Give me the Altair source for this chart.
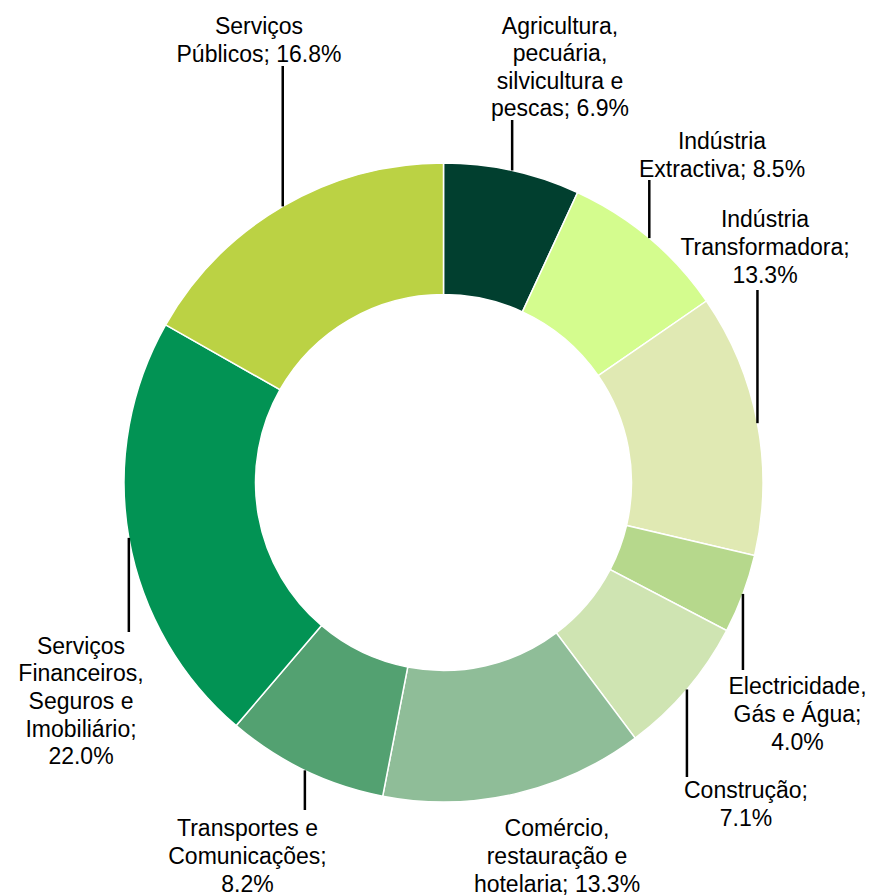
import math
import altair as alt
import pandas as pd

# ---- data ----
sectors = [
    "Agricultura,\npecuária,\nsilvicultura e\npescas; 6.9%",
    "Indústria\nExtractiva; 8.5%",
    "Indústria\nTransformadora;\n13.3%",
    "Electricidade,\nGás e Água;\n4.0%",
    "Construção;\n7.1%",
    "Comércio,\nrestauração e\nhotelaria; 13.3%",
    "Transportes e\nComunicações;\n8.2%",
    "Serviços\nFinanceiros,\nSeguros e\nImobiliário;\n22.0%",
    "Serviços\nPúblicos; 16.8%",
]
values = [6.9, 8.5, 13.3, 4.0, 7.1, 13.3, 8.2, 22.0, 16.8]
colors = ["#013F2F", "#D4FC8E", "#E0E9B3", "#B6D88C", "#CFE4B2",
          "#8FBD98", "#53A171", "#029354", "#BBD244"]

# ---- layout (annotation placement, in chart pixels) ----
CX, CY = 435.5, 474.5          # donut centre
R_OUT, R_IN = 319.5, 188
LINE_H = 27.6
leader_end_y = [112, 172, 282, 662, 769, None, 802, 624, 58]
label_center = [(552, 59), (714, 147), (757, 239), (789.5, 706), (738, 796),
                (549, 848), (239.5, 848), (73, 693), (251, 32)]

total = sum(values)
rows, rules = [], []
cum = 0.0
for i, (s, v) in enumerate(zip(sectors, values)):
    mid = (cum + v / 2) / total * 2 * math.pi
    cum += v
    px = CX + R_OUT * math.sin(mid)
    py = CY - R_OUT * math.cos(mid)
    n_lines = s.count("\n") + 1
    rows.append({"sector": s, "value": v, "idx": i,
                 "lx": label_center[i][0],
                 "ly": label_center[i][1] - (n_lines - 1) * LINE_H / 2 + 1})
    if leader_end_y[i] is not None:
        rules.append({"rx": px, "ry1": py, "ry2": leader_end_y[i]})

df = pd.DataFrame(rows)
rdf = pd.DataFrame(rules)

arc = alt.Chart(df).mark_arc(
    innerRadius=R_IN, outerRadius=R_OUT, stroke="white", strokeWidth=1.5
).encode(
    theta=alt.Theta("value:Q", stack=True),
    color=alt.Color("sector:N", scale=alt.Scale(domain=sectors, range=colors), legend=None),
    order=alt.Order("idx:Q"),
    x=alt.value(CX),
    y=alt.value(CY),
)

leaders = alt.Chart(rdf).mark_rule(color="black", strokeWidth=2.5).encode(
    x=alt.X("rx:Q", scale=None),
    y=alt.Y("ry1:Q", scale=None),
    y2="ry2:Q",
)

labels = alt.Chart(df).mark_text(
    font="Liberation Sans", fontSize=23, lineBreak="\n", lineHeight=LINE_H,
    align="center", baseline="middle", color="black"
).encode(
    x=alt.X("lx:Q", scale=None),
    y=alt.Y("ly:Q", scale=None),
    text="sector:N",
)

chart = alt.layer(arc, leaders, labels).properties(
    width=862, height=888, padding=0, autosize="none"
).configure_view(stroke=None)

chart.save("out.html", embed_options={"renderer": "svg", "actions": False})
